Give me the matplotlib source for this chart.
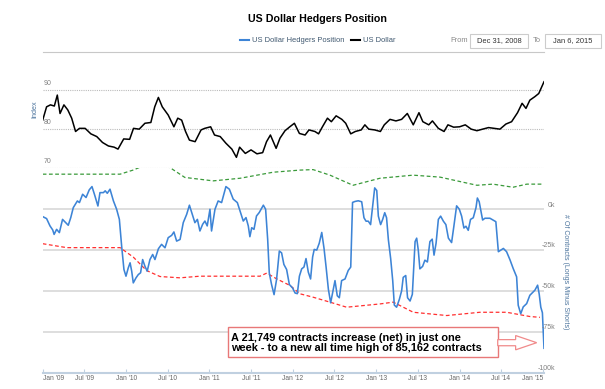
import matplotlib.pyplot as plt
import pandas as pd
from matplotlib.patches import Rectangle, FancyArrow
from matplotlib.lines import Line2D

plt.rcParams['font.family'] = ['Liberation Sans', 'DejaVu Sans']

# US Dollar index (top panel)
usd_dates = ['2008-12-31', '2009-01-17', '2009-02-03', '2009-02-20', '2009-03-05', '2009-03-17',
             '2009-04-03', '2009-04-20', '2009-05-07', '2009-05-24', '2009-06-10', '2009-07-05',
             '2009-07-30', '2009-08-25', '2009-09-19', '2009-10-15', '2009-11-09', '2009-11-26',
             '2009-12-21', '2010-01-16', '2010-02-02', '2010-02-27', '2010-03-24', '2010-04-19',
             '2010-05-06', '2010-05-22', '2010-06-08', '2010-07-04', '2010-07-29', '2010-08-15',
             '2010-09-01', '2010-09-18', '2010-10-05', '2010-10-30', '2010-11-25', '2010-12-11',
             '2011-01-06', '2011-01-23', '2011-02-17', '2011-03-14', '2011-04-09', '2011-04-29',
             '2011-05-13', '2011-06-07', '2011-07-02', '2011-07-28', '2011-08-22', '2011-09-08',
             '2011-09-25', '2011-10-20', '2011-11-06', '2011-11-28', '2011-12-19', '2012-01-08',
             '2012-01-30', '2012-02-24', '2012-03-12', '2012-04-07', '2012-04-23', '2012-05-10',
             '2012-06-01', '2012-06-18', '2012-07-09', '2012-08-03', '2012-08-20', '2012-09-11',
             '2012-10-01', '2012-10-27', '2012-11-12', '2012-11-29', '2012-12-25', '2013-01-19',
             '2013-02-05', '2013-03-02', '2013-03-28', '2013-04-22', '2013-05-17', '2013-06-12',
             '2013-07-07', '2013-07-24', '2013-08-19', '2013-09-04', '2013-09-30', '2013-10-25',
             '2013-11-11', '2013-12-06', '2014-01-01', '2014-01-26', '2014-02-21', '2014-03-18',
             '2014-04-12', '2014-05-08', '2014-06-02', '2014-06-27', '2014-07-23', '2014-08-17',
             '2014-09-12', '2014-10-02', '2014-10-19', '2014-11-05', '2014-11-27', '2014-12-14',
             '2015-01-06']
usd_values = [82.3, 85.7, 86.2, 85.9, 88.7, 84.0,
              86.2, 84.9, 82.8, 79.4, 80.2, 80.2,
              78.8, 78.1, 76.6, 75.7, 75.4, 74.9,
              77.5, 77.4, 80.2, 80.0, 81.5, 81.7,
              85.7, 88.1, 85.7, 83.6, 80.6, 82.8,
              82.3, 79.4, 77.2, 76.8, 79.8, 80.2,
              80.6, 78.5, 78.1, 76.4, 74.9, 72.8,
              75.4, 73.8, 74.7, 73.7, 74.0, 76.8,
              78.5, 75.1, 77.7, 79.6, 80.6, 81.5,
              78.9, 78.5, 79.8, 79.4, 78.8, 80.6,
              82.8, 81.9, 83.4, 82.5, 81.5, 78.8,
              79.4, 79.8, 81.1, 80.0, 79.8, 79.4,
              81.1, 82.5, 82.1, 82.5, 84.0, 81.1,
              84.2, 81.9, 81.1, 82.1, 80.2, 79.4,
              81.1, 80.5, 80.6, 81.1, 80.0, 79.6,
              80.0, 80.4, 80.2, 80.0, 81.3, 81.9,
              84.2, 86.6, 85.3, 87.4, 88.3, 89.1,
              92.1]

# hedgers net position, thousands of contracts (longs minus shorts)
hedge_dates = ['2008-12-31', '2009-01-17', '2009-02-01', '2009-02-13', '2009-02-19', '2009-03-02',
               '2009-03-14', '2009-03-28', '2009-04-08', '2009-04-22', '2009-05-03', '2009-05-14',
               '2009-06-01', '2009-06-10', '2009-06-24', '2009-07-09', '2009-07-23', '2009-08-04',
               '2009-08-16', '2009-08-30', '2009-09-08', '2009-09-23', '2009-10-01', '2009-10-10',
               '2009-10-22', '2009-11-06', '2009-11-20', '2009-12-02', '2009-12-12', '2009-12-22',
               '2009-12-31', '2010-01-10', '2010-01-18', '2010-01-25', '2010-02-01', '2010-02-13',
               '2010-02-23', '2010-03-05', '2010-03-14', '2010-03-24', '2010-04-03', '2010-04-15',
               '2010-04-27', '2010-05-07', '2010-05-22', '2010-06-05', '2010-06-20', '2010-07-04',
               '2010-07-19', '2010-07-29', '2010-08-10', '2010-08-25', '2010-09-08', '2010-09-23',
               '2010-10-05', '2010-10-15', '2010-10-29', '2010-11-09', '2010-11-20', '2010-12-02',
               '2010-12-12', '2010-12-22', '2011-01-03', '2011-01-10', '2011-01-25', '2011-02-08',
               '2011-02-23', '2011-03-05', '2011-03-14', '2011-03-29', '2011-04-15', '2011-05-03',
               '2011-05-17', '2011-05-29', '2011-06-10', '2011-06-20', '2011-06-27', '2011-07-05',
               '2011-07-15', '2011-07-26', '2011-08-07', '2011-08-25', '2011-09-04', '2011-09-13',
               '2011-09-20', '2011-09-30', '2011-10-11', '2011-10-22', '2011-11-03', '2011-11-13',
               '2011-11-23', '2011-12-05', '2011-12-17', '2011-12-31', '2012-01-11', '2012-01-21',
               '2012-01-30', '2012-02-09', '2012-02-19', '2012-02-28', '2012-03-09', '2012-03-19',
               '2012-03-28', '2012-04-04', '2012-04-15', '2012-04-26', '2012-05-07', '2012-05-17',
               '2012-05-26', '2012-06-05', '2012-06-15', '2012-06-24', '2012-07-04', '2012-07-14',
               '2012-07-23', '2012-08-02', '2012-08-17', '2012-08-31', '2012-09-11', '2012-09-19',
               '2012-09-30', '2012-10-14', '2012-10-29', '2012-11-08', '2012-11-17', '2012-11-27',
               '2012-12-07', '2012-12-16', '2012-12-25', '2013-01-03', '2013-01-10', '2013-01-20',
               '2013-01-29', '2013-02-07', '2013-02-15', '2013-02-23', '2013-03-05', '2013-03-14',
               '2013-03-21', '2013-03-31', '2013-04-12', '2013-04-22', '2013-04-29', '2013-05-10',
               '2013-05-18', '2013-05-29', '2013-06-08', '2013-06-20', '2013-06-27', '2013-07-04',
               '2013-07-11', '2013-07-23', '2013-08-02', '2013-08-13', '2013-08-24', '2013-09-03',
               '2013-09-11', '2013-09-20', '2013-09-30', '2013-10-10', '2013-10-22', '2013-11-02',
               '2013-11-13', '2013-11-27', '2013-12-07', '2013-12-19', '2013-12-31', '2014-01-10',
               '2014-01-20', '2014-01-29', '2014-02-08', '2014-02-18', '2014-03-02', '2014-03-14',
               '2014-03-20', '2014-03-28', '2014-04-12', '2014-04-22', '2014-05-14', '2014-06-09',
               '2014-06-20', '2014-07-12', '2014-07-26', '2014-08-10', '2014-08-24', '2014-09-08',
               '2014-09-15', '2014-09-26', '2014-10-07', '2014-10-22', '2014-11-05', '2014-11-27',
               '2014-12-09', '2014-12-16', '2014-12-23', '2014-12-30', '2015-01-06']
hedge_k = [-4.5, -5.7, -10.2, -12.7, -15.4, -12.3,
           -14.3, -6.2, -7.8, -9.8, -5.1, 1.0,
           5.1, 4.1, 9.2, 7.2, 11.9, 13.9,
           8.6, 2.0, 10.2, 10.2, 11.3, 9.8,
           12.3, 5.1, 0.0, -6.2, -22.6, -36.9,
           -41.0, -35.9, -32.8, -37.9, -45.1, -42.0,
           -40.0, -38.9, -30.8, -34.9, -37.9, -30.8,
           -27.7, -30.8, -24.2, -21.5, -23.6, -17.4,
           -16.0, -13.9, -19.5, -18.5, -8.2, -3.1,
           2.5, -2.0, -8.2, -6.2, -13.3, -9.2,
           -7.2, -10.2, 0.0, -13.3, 0.0, 5.1,
           4.1, 9.2, 13.9, 12.3, 6.2, 4.1,
           -2.0, -7.2, -5.1, -10.2, -16.8, -11.3,
           -12.3, -4.1, -2.0, 2.5, 0.0, -18.5,
           -39.0, -46.1, -52.3, -43.0, -25.6, -26.7,
           -33.8, -36.9, -46.1, -48.2, -51.3, -51.7,
           -41.0, -36.5, -35.4, -30.2, -38.5, -42.7,
           -29.2, -24.6, -25.0, -20.8, -14.2, -24.0,
           -35.4, -49.0, -57.3, -51.0, -43.7, -53.0,
           -54.2, -43.7, -42.7, -37.5, -35.4, 4.2,
           4.8, 5.2, 4.6, -5.2, -7.3, -7.3,
           -9.4, 2.1, 13.1, 11.5, -4.2, -9.4,
           -6.2, -2.1, -5.2, -18.7, -30.2, -43.7,
           -58.7, -60.0, -55.2, -50.0, -41.7, -40.6,
           -54.2, -56.2, -52.1, -19.8, -17.7, -25.0,
           -36.5, -35.0, -31.2, -32.3, -19.8, -18.3,
           -28.1, -20.8, -6.2, -4.2, -7.3, -9.4,
           -17.7, -20.4, -10.4, 2.1, 0.0, -4.2,
           -11.5, -10.4, -12.9, -6.2, -5.2, 1.0,
           6.9, 4.6, -6.6, -5.5, -5.5, -7.6,
           -26.0, -24.0, -26.0, -31.0, -36.3, -41.4,
           -58.8, -64.0, -59.8, -57.8, -52.7, -49.6,
           -46.5, -52.0, -60.0, -63.4, -85.162]

# upper (green) and lower (red) dashed bands, thousands of contracts
upper_dates = ['2008-12-31', '2009-04-15', '2009-12-05', '2010-01-31', '2010-03-15', '2010-06-01',
               '2010-07-12', '2010-09-15', '2011-01-17', '2011-05-15', '2011-10-07', '2012-02-02',
               '2012-03-30', '2012-06-12', '2012-09-21', '2013-01-17', '2013-06-11', '2013-10-07',
               '2014-03-18', '2014-05-27', '2014-08-23', '2014-10-23', '2014-12-31']
upper_k = [21.5, 21.5, 21.5, 24.0, 26.5, 27.0,
           25.5, 19.5, 17.4, 19.0, 22.7, 24.0,
           24.3, 20.9, 14.7, 19.0, 20.9, 19.7,
           14.7, 15.4, 13.5, 15.4, 15.4]
lower_dates = ['2008-12-31', '2009-04-15', '2009-12-05', '2010-02-01', '2010-03-31', '2010-05-29',
               '2010-08-25', '2010-11-20', '2011-08-10', '2011-09-09', '2011-10-22', '2011-12-20',
               '2012-02-02', '2012-03-31', '2012-06-12', '2012-08-24', '2013-01-17', '2013-03-16',
               '2013-04-15', '2013-06-12', '2013-11-06', '2014-03-31', '2014-07-26', '2014-11-05',
               '2014-12-19']
lower_k = [-21.1, -23.5, -23.5, -29.3, -37.5, -41.2,
           -42.0, -41.0, -41.0, -39.1, -42.6, -46.7,
           -51.8, -53.9, -56.9, -60.0, -58.0, -56.9,
           -59.0, -63.1, -65.1, -63.1, -63.1, -65.7,
           -66.2]

index_ticks = [70, 80, 90]
contract_ticks = [0, -25, -50, -75, -100]
contract_labels = ['0k', '-25k', '-50k', '-75k', '-100k']
month_ticks = pd.date_range('2009-01-01', '2015-01-01', freq='6MS')
month_labels = [d.strftime("%b '%y") for d in month_ticks]

note = "A 21,749 contracts increase (net) in just one\nweek - to a new all time high of 85,162 contracts"

blue = '#3D84D6'
tick_col = '#666666'
axis_col = '#4D759E'

W, H = 605, 389
fig = plt.figure(figsize=(W / 100, H / 100), dpi=100)


def px_box(l, t, r, b):
    return [l / W, 1 - b / H, (r - l) / W, (b - t) / H]


ax_top = fig.add_axes(px_box(42.7, 52, 544, 168.3))
ax_bot = fig.add_axes(px_box(42.7, 168.3, 544, 372.5))
x0, x1 = pd.Timestamp('2008-12-31'), pd.Timestamp('2015-01-06')

# top panel: dollar index
ax_top.plot(pd.to_datetime(usd_dates), usd_values, color='black', lw=1.1, zorder=3)
ax_top.set_xlim(x0, x1)
ax_top.set_ylim(70, 99.7)
ax_top.set_yticks(index_ticks)
ax_top.grid(axis='y', ls=(0, (1, 1)), color='#BBBBBB', lw=0.8)
ax_top.tick_params(left=False, bottom=False, labelleft=False, labelbottom=False)
for s in ['left', 'right', 'bottom']:
    ax_top.spines[s].set_visible(False)
ax_top.spines['top'].set_linestyle((0, (1, 1)))
ax_top.spines['top'].set_color('#C8C8C8')
ax_top.spines['top'].set_linewidth(0.8)
ax_top.patch.set_alpha(0)
for v in index_ticks:
    ax_top.annotate(str(v), xy=(0, v), xycoords=ax_top.get_yaxis_transform(),
                    xytext=(1, 2.3), textcoords='offset points', ha='left', va='bottom',
                    fontsize=5.0, color='#808080')
ax_top.text(-0.016, 0.51, 'Index', transform=ax_top.transAxes, rotation=90,
            ha='center', va='center', fontsize=5.2, color=axis_col)

# bottom panel: hedgers position and bands
ax_bot.plot(pd.to_datetime(upper_dates), upper_k, color='#3A9A3A', lw=0.9, ls=(0, (3, 2)))
ax_bot.plot(pd.to_datetime(lower_dates), lower_k, color='#FF3030', lw=0.9, ls=(0, (3, 2)))
ax_bot.plot(pd.to_datetime(hedge_dates), hedge_k, color=blue, lw=1.15, zorder=3)
ax_bot.set_xlim(x0, x1)
ax_bot.set_ylim(-100, 25.1)
ax_bot.set_yticks(contract_ticks)
ax_bot.grid(axis='y', color='#D8D8D8', lw=1.2)
ax_bot.tick_params(axis='y', left=False, labelleft=False)
for s in ['left', 'right', 'top']:
    ax_bot.spines[s].set_visible(False)
ax_bot.spines['bottom'].set_color('#C0D0E0')
ax_bot.spines['bottom'].set_linewidth(1.5)
ax_bot.patch.set_alpha(0)
for v, lbl in zip(contract_ticks, contract_labels):
    ax_bot.annotate(lbl, xy=(1, v), xycoords=ax_bot.get_yaxis_transform(),
                    xytext=(8, 0.5), textcoords='offset points', ha='right', va='bottom',
                    fontsize=5.0, color='#808080')
ax_bot.text(1.043, 0.495, '# Of Contracts (Longs Minus Shorts)', transform=ax_bot.transAxes,
            rotation=270, ha='center', va='center', fontsize=5.0, color=axis_col)

ax_bot.set_xticks(month_ticks)
ax_bot.set_xticklabels(month_labels)
ax_bot.tick_params(axis='x', direction='in', length=3, color='#C0D0E0', width=0.8,
                   labelsize=4.8, labelcolor=tick_col, pad=1.5)
tl = ax_bot.get_xticklabels()
tl[0].set_ha('left')
tl[-1].set_ha('right')

# annotation box with hollow arrow
bx0, by0, bx1, by1 = 0.3702, 0.0774, 0.9077, 0.2243
ax_bot.add_patch(Rectangle((bx0, by0), bx1 - bx0, by1 - by0, transform=ax_bot.transAxes,
                           fc='white', ec='#E87878', lw=1.0, zorder=5))
ax_bot.text(bx0 + 0.006, (by0 + by1) / 2 - 0.004, note, transform=ax_bot.transAxes, ha='left',
            va='center', fontsize=7.9, fontweight='bold', linespacing=1.0, zorder=6)
ax_bot.add_patch(FancyArrow(bx1, 0.146, 0.0777, 0, width=0.03, head_width=0.07,
                            head_length=0.042, length_includes_head=True,
                            transform=ax_bot.transAxes, fc='white', ec='#F08A8A', lw=0.9,
                            clip_on=False, zorder=5))

# title, legend and date range boxes
fig.text(317 / W, 1 - 19 / H, 'US Dollar Hedgers Position', ha='center', va='center',
         fontsize=7.7, fontweight='bold')
handles = [Line2D([], [], color=blue, lw=1.5), Line2D([], [], color='black', lw=1.5)]
fig.legend(handles, ['US Dollar Hedgers Position', 'US Dollar'], loc='center',
           bbox_to_anchor=(317.5 / W, 1 - 40.5 / H), ncol=2, frameon=False, fontsize=5.4,
           handlelength=1.2, handletextpad=0.4, columnspacing=0.9, labelcolor='#3E576F')

fig.text(459.5 / W, 1 - 41 / H, 'From', ha='center', va='center', fontsize=5.4, color='#888888')
fig.text(537 / W, 1 - 41 / H, 'To', ha='center', va='center', fontsize=5.4, color='#888888')
for l, r, txt in [(470, 528, 'Dec 31, 2008'), (545, 601, 'Jan 6, 2015')]:
    fig.patches.append(Rectangle((l / W, 1 - 47.5 / H), (r - l) / W, 13.5 / H,
                                 transform=fig.transFigure, fc='white', ec='#CCCCCC', lw=0.8))
    fig.text((l + r) / 2 / W, 1 - 41 / H, txt, ha='center', va='center', fontsize=5.4,
             color='#333333')

fig.savefig('out.png', dpi=100)
